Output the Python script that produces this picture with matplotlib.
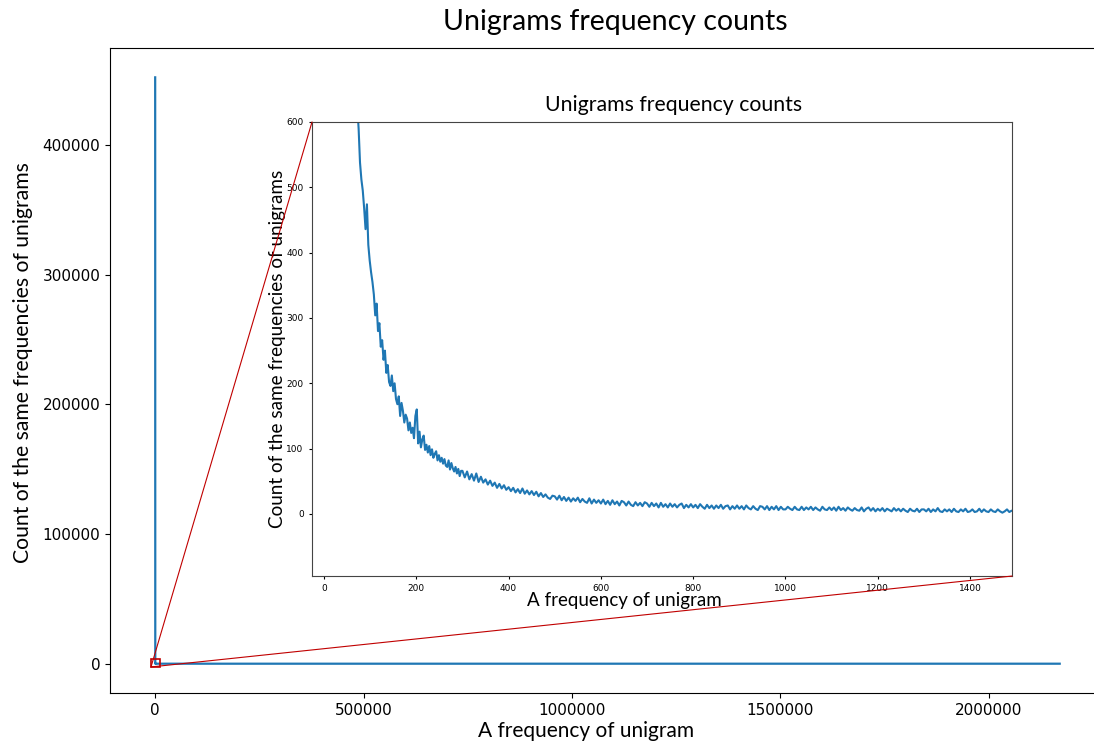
import matplotlib.pyplot as plt
from matplotlib.patches import Rectangle, ConnectionPatch
from matplotlib.ticker import FormatStrFormatter

# count of unigrams sharing a frequency
head_freq = [1, 2, 3, 4, 5, 6, 7, 8, 10, 12, 15, 20, 25, 30, 40, 50, 60, 65, 70, 72]
head_count = [452000, 118000, 61000, 39000, 28000, 21500, 17200, 14300, 10400, 8000,
              5800, 3900, 2950, 2400, 1600, 1120, 840, 740, 660, 625]

steep_freq = list(range(75, 300, 3))
steep_count = [590, 538, 512, 495, 468, 436, 474, 412, 388, 370,
               355, 336, 304, 322, 280, 292, 256, 266, 236, 250,
               216, 228, 202, 196, 212, 188, 200, 176, 168, 180,
               150, 170, 158, 140, 152, 146, 128, 140, 124, 132,
               116, 150, 160, 108, 126, 102, 114, 120, 98, 106,
               94, 104, 90, 99, 86, 92, 96, 82, 90, 80,
               86, 77, 84, 74, 72, 82, 68, 78, 70, 65,
               72, 62, 69, 58, 66]

flat_freq = list(range(300, 1495, 5))
flat_count = [66, 56, 65, 53, 61, 51, 62, 49, 57, 48,
              53, 45, 51, 43, 48, 40, 46, 39, 44, 37,
              41, 35, 40, 33, 38, 32, 39, 31, 36, 30,
              35, 29, 34, 27, 32, 26, 30, 25, 23, 28,
              27, 22, 28, 21, 26, 20, 25, 19, 24, 20,
              25, 18, 23, 19, 17, 24, 16, 22, 17, 21,
              16, 22, 15, 20, 14, 21, 15, 19, 13, 20,
              18, 13, 19, 14, 12, 18, 13, 17, 12, 18,
              16, 11, 17, 12, 16, 10, 17, 11, 15, 10,
              16, 11, 15, 10, 14, 16, 9, 14, 10, 15,
              10, 14, 9, 15, 11, 8, 14, 9, 13, 8,
              13, 9, 14, 8, 12, 13, 7, 12, 8, 13,
              8, 12, 7, 13, 9, 7, 12, 8, 6, 12,
              11, 7, 12, 6, 11, 7, 12, 6, 11, 7,
              7, 11, 8, 6, 11, 7, 6, 11, 6, 10,
              7, 11, 6, 10, 7, 5, 11, 7, 6, 10,
              6, 10, 5, 11, 6, 9, 5, 10, 7, 5,
              9, 6, 5, 10, 4, 8, 10, 5, 9, 4,
              8, 5, 9, 4, 8, 6, 4, 9, 5, 8,
              4, 8, 5, 3, 8, 5, 4, 8, 3, 7,
              7, 4, 8, 3, 7, 4, 9, 4, 3, 7,
              4, 7, 3, 8, 4, 3, 7, 4, 8, 3,
              4, 7, 3, 4, 8, 3, 7, 4, 3, 7,
              4, 3, 7, 4, 2, 4, 7, 3, 5]

far_freq = [1600, 2000, 3000, 5000, 10000, 30000, 100000, 400000, 1000000, 2170000]
far_count = [4, 3, 2, 1, 1, 1, 1, 1, 1, 1]

freq = head_freq + steep_freq + flat_freq + far_freq
count = head_count + steep_count + flat_count + far_count

TITLE = 'Unigrams frequency counts'
XLAB = 'A frequency of unigram'
YLAB = 'Count of the same frequencies of unigrams'
LBL_FONT = 'Lato'
RED = '#c00000'
BLUE = '#1f77b4'

fig = plt.figure(figsize=(10.94, 7.48), dpi=100)

# main axes runs a little past the right edge of the figure
ax = fig.add_axes([0.1005, 0.0735, 0.9095, 0.8623])
ax.plot(freq, count, color=BLUE, linewidth=1.6)
ax.xaxis.set_major_formatter(FormatStrFormatter('%d'))
ax.yaxis.set_major_formatter(FormatStrFormatter('%d'))
ax.set_xticks([0, 500000, 1000000, 1500000, 2000000])
ax.set_yticks([0, 100000, 200000, 300000, 400000])
ax.tick_params(labelsize=11)
ax.set_title(TITLE, fontsize=20.5, family=LBL_FONT, x=0.508, pad=13)
ax.set_xlabel(XLAB, fontsize=15, family=LBL_FONT)
ax.set_ylabel(YLAB, fontsize=15.2, family=LBL_FONT)
ax.xaxis.set_label_coords(0.479, -0.043)
ax.yaxis.set_label_coords(-0.077, 0.513)

# zoom box around the origin
ax.add_patch(Rectangle((-10000, -2500), 22000, 6000, fill=False,
                       edgecolor=RED, linewidth=1.2, zorder=5))

# inset
ins = fig.add_axes([0.2852, 0.2299, 0.6399, 0.607])
ins.plot(freq, count, color=BLUE, linewidth=1.5)
ins.set_xlim(-26, 1491)
ins.set_ylim(-95, 600)
ins.set_xticks(range(0, 1401, 200))
ins.set_yticks(range(0, 601, 100))
ins.tick_params(labelsize=6.5, length=2.5, width=0.8)
for s in ins.spines.values():
    s.set_color('#444444')
ins.set_title(TITLE, fontsize=15.3, family=LBL_FONT, x=0.516, pad=8)
ins.set_xlabel(XLAB, fontsize=13.5, family=LBL_FONT)
ins.set_ylabel(YLAB, fontsize=13.6, family=LBL_FONT)
ins.xaxis.set_label_coords(0.446, -0.036)
ins.yaxis.set_label_coords(-0.037, 0.5)

for corner in [(0, 1), (1, 0)]:
    con = ConnectionPatch(xyA=(-10000, -2500), coordsA=ax.transData,
                          xyB=corner, coordsB=ins.transAxes,
                          color=RED, linewidth=0.8)
    fig.add_artist(con)

fig.savefig('out.png', dpi=100)
